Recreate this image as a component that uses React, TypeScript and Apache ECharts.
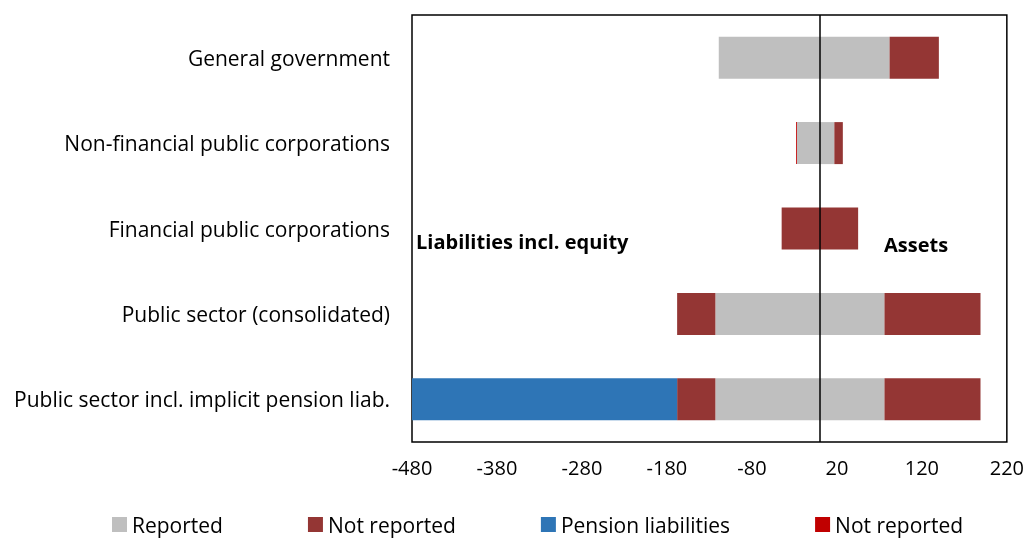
import React, { useEffect, useRef } from "react";
import * as echarts from "echarts";

const categories = [
  "General government",
  "Non-financial public corporations",
  "Financial public corporations",
  "Public sector (consolidated)",
  "Public sector incl. implicit pension liab.",
];
const reportedLiabilities = [-119, -27, 0, -123, -123];
const notReportedLiabilities = [0, 0, -45, -45, -45];
const pensionLiabilities = [0, 0, 0, 0, -312];
const notReportedOther = [0, -1, 0, 0, 0];
const reportedAssets = [82, 17, 0, 76, 76];
const notReportedAssets = [58, 10, 45, 113, 113];
const xTicks = [-480, -380, -280, -180, -80, 20, 120, 220];
const legendNames = ["Reported", "Not reported", "Pension liabilities", "Not reported "];

const FONT = "Open Sans";

export default function App() {
  const ref = useRef<HTMLDivElement>(null);
  useEffect(() => {
    const chart = echarts.init(ref.current!, null, { renderer: "svg" });
    const bar = (name: string, data: number[], color: string, extra: any = {}) => ({
      type: "bar",
      name,
      stack: "total",
      data,
      barWidth: 42,
      itemStyle: { color },
      ...extra,
    });
    chart.setOption({
      animation: false,
      textStyle: { fontFamily: FONT },
      grid: {
        left: 412,
        right: 19,
        top: 15,
        bottom: 96,
        show: true,
        borderColor: "#000",
        borderWidth: 1.5,
        backgroundColor: "transparent",
      },
      xAxis: {
        type: "value",
        min: -480,
        max: 220,
        axisLine: { show: false },
        axisTick: { show: false, customValues: xTicks },
        splitLine: { show: false },
        axisLabel: {
          customValues: xTicks,
          fontSize: 20,
          color: "#000",
          fontFamily: FONT,
          margin: 15,
        },
      },
      yAxis: {
        type: "category",
        data: categories,
        inverse: true,
        axisLine: { show: false },
        axisTick: { show: false },
        axisLabel: { fontSize: 21, color: "#000", fontFamily: FONT, margin: 22 },
      },
      legend: {
        data: legendNames.map((n) => ({ name: n, icon: "rect" })),
        left: 107,
        bottom: -2,
        itemWidth: 15,
        itemHeight: 15,
        itemGap: 85,
        formatter: (n: string) => n.trim(),
        textStyle: { fontSize: 21, color: "#000", fontFamily: FONT },
      },
      series: [
        bar("Reported", reportedLiabilities, "#BFBFBF", {
          markLine: {
            silent: true,
            symbol: "none",
            label: { show: false },
            lineStyle: { color: "#000", width: 1.5, type: "solid" },
            data: [{ xAxis: 0 }],
          },
        }),
        bar("Reported", reportedAssets, "#BFBFBF"),
        bar("Not reported", notReportedLiabilities, "#943634"),
        bar("Not reported", notReportedAssets, "#943634"),
        bar("Pension liabilities", pensionLiabilities, "#2E75B6"),
        bar("Not reported ", notReportedOther, "#C00000"),
      ],
      graphic: [
        {
          type: "text",
          left: 416,
          top: 231,
          style: { text: "Liabilities incl. equity", fontSize: 20, fontWeight: "bold", fontFamily: FONT, fill: "#000" },
        },
        {
          type: "text",
          left: 884,
          top: 234,
          style: { text: "Assets", fontSize: 20, fontWeight: "bold", fontFamily: FONT, fill: "#000" },
        },
      ],
    });
    return () => chart.dispose();
  }, []);
  return <div ref={ref} style={{ position: "fixed", left: 0, top: 0, width: 1027, height: 538 }} />;
}
